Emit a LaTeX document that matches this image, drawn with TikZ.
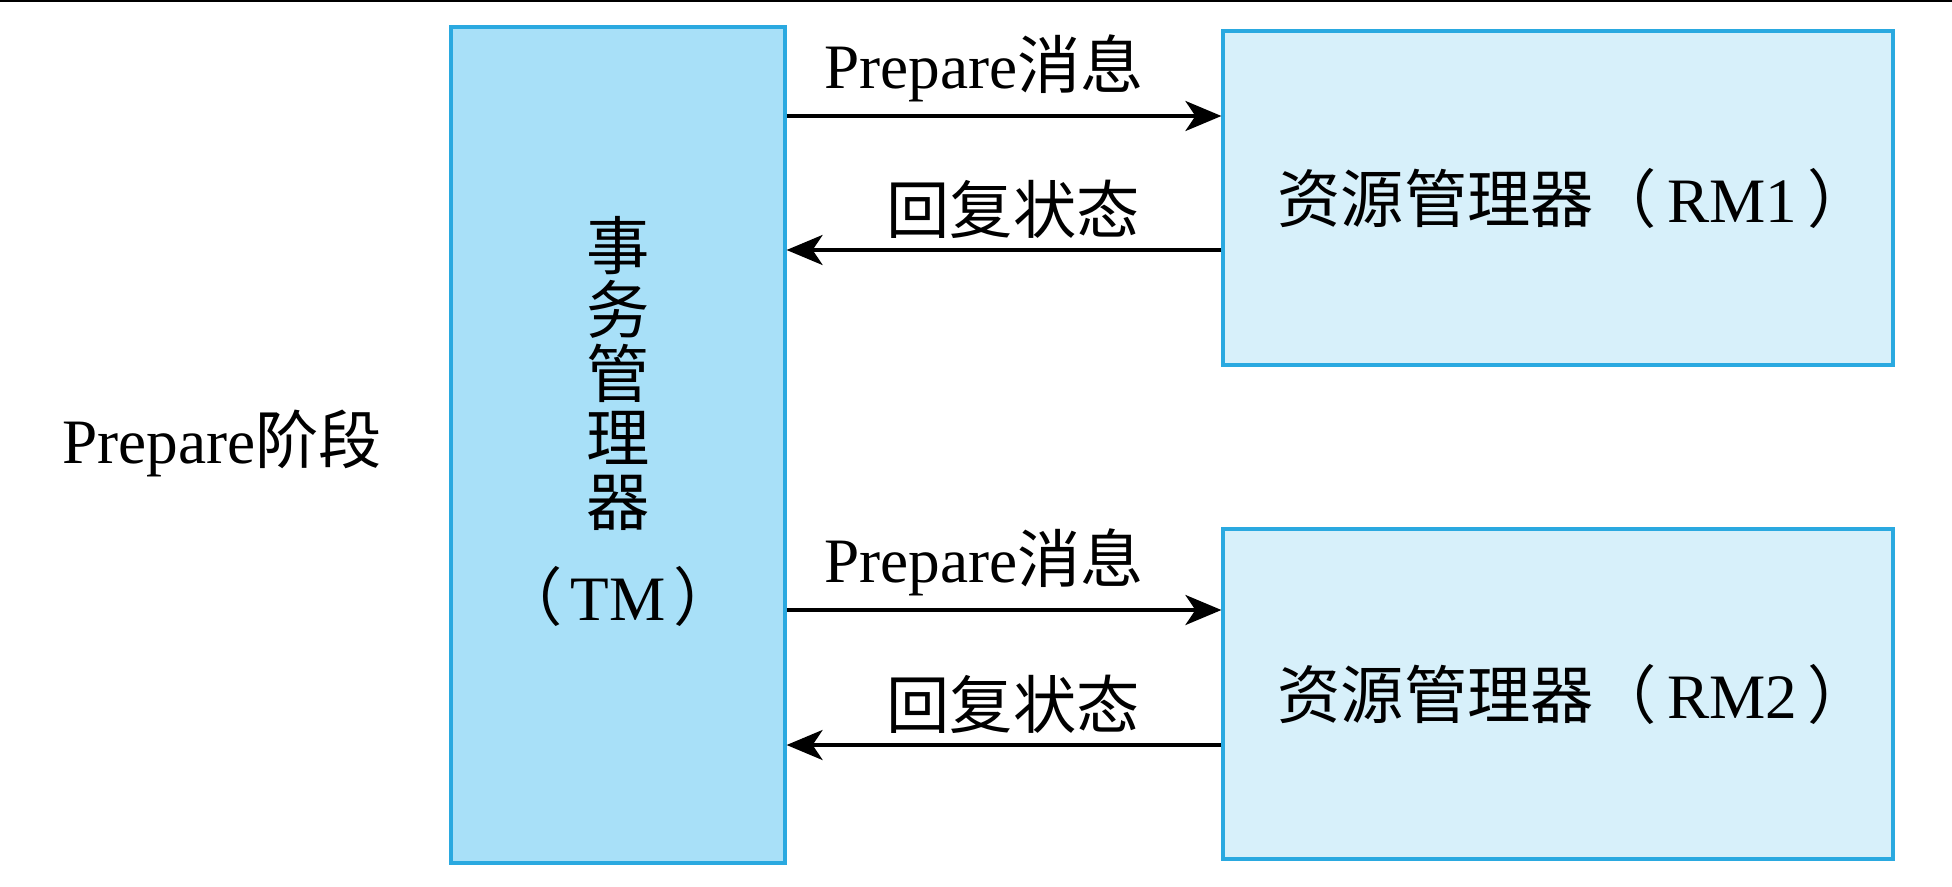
\documentclass[tikz,border=0pt]{standalone}
\usepackage{fontspec}
\setmainfont{Liberation Serif}
\newfontfamily\cjk{Noto Sans CJK SC}
\newcommand{\zh}[1]{{\cjk #1}}
\usetikzlibrary{arrows.meta}

\definecolor{boxline}{RGB}{42,169,224}
\definecolor{tmfill}{RGB}{168,224,248}
\definecolor{rmfill}{RGB}{215,240,250}

\tikzset{
  box/.style={draw=boxline, line width=0.9pt, inner sep=0pt},
  txt/.style={font=\fontsize{18}{18}\selectfont, inner sep=0pt},
  msg/.style={line width=1.1pt, -{Stealth[length=0.36cm,width=0.30cm,inset=0.1cm]}}
}

\begin{document}
\begin{tikzpicture}
  \useasboundingbox (0,0) rectangle (19.52,-8.86);
  \draw[line width=0.6pt] (0,-0.01) -- (19.52,-0.01);

  % boxes
  \node[box, fill=tmfill, minimum width=3.34cm, minimum height=8.36cm] (tm) at (6.18,-4.45) {};
  \node[box, txt, fill=rmfill, minimum width=6.70cm, minimum height=3.34cm] (rm1) at (15.58,-1.98) {\hspace{0.32cm}\zh{资源管理器（}\hspace{0.1cm}RM1\hspace{0.1cm}\zh{）}};
  \node[box, txt, fill=rmfill, minimum width=6.70cm, minimum height=3.30cm] (rm2) at (15.58,-6.94) {\hspace{0.32cm}\zh{资源管理器（}\hspace{0.1cm}RM2\hspace{0.1cm}\zh{）}};

  % text of the TM box, one character per line
  \foreach \ch [count=\i] in {事,务,管,理,器}
    \node[txt, anchor=base] (tm\i) at (6.18,{-2.69-0.64*(\i-1)}) {\zh{\ch}};
  \node[txt, anchor=base] (tmname) at (6.18,-6.20) {\zh{（}\hspace{0.08cm}TM\hspace{0.08cm}\zh{）}};

  \node[txt, anchor=base] (phase) at (2.22,-4.63) {Prepare\zh{阶段}};

  % messages
  \coordinate (p1) at ([yshift=0.82cm]rm1.west);
  \coordinate (r1) at ([yshift=-0.52cm]rm1.west);
  \coordinate (p2) at ([yshift=0.84cm]rm2.west);
  \coordinate (r2) at ([yshift=-0.51cm]rm2.west);

  \draw[msg] (tm.east |- p1) -- (p1);
  \draw[msg] (r1) -- (tm.east |- r1);
  \draw[msg] (tm.east |- p2) -- (p2);
  \draw[msg] (r2) -- (tm.east |- r2);

  \node[txt, anchor=base] (prep1) at (9.84,-0.88) {Prepare\zh{消息}};
  \node[txt, anchor=base] (reply1) at (10.13,-2.33) {\zh{回复状态}};
  \node[txt, anchor=base] (prep2) at (9.84,-5.82) {Prepare\zh{消息}};
  \node[txt, anchor=base] (reply2) at (10.13,-7.28) {\zh{回复状态}};

\end{tikzpicture}
\end{document}
